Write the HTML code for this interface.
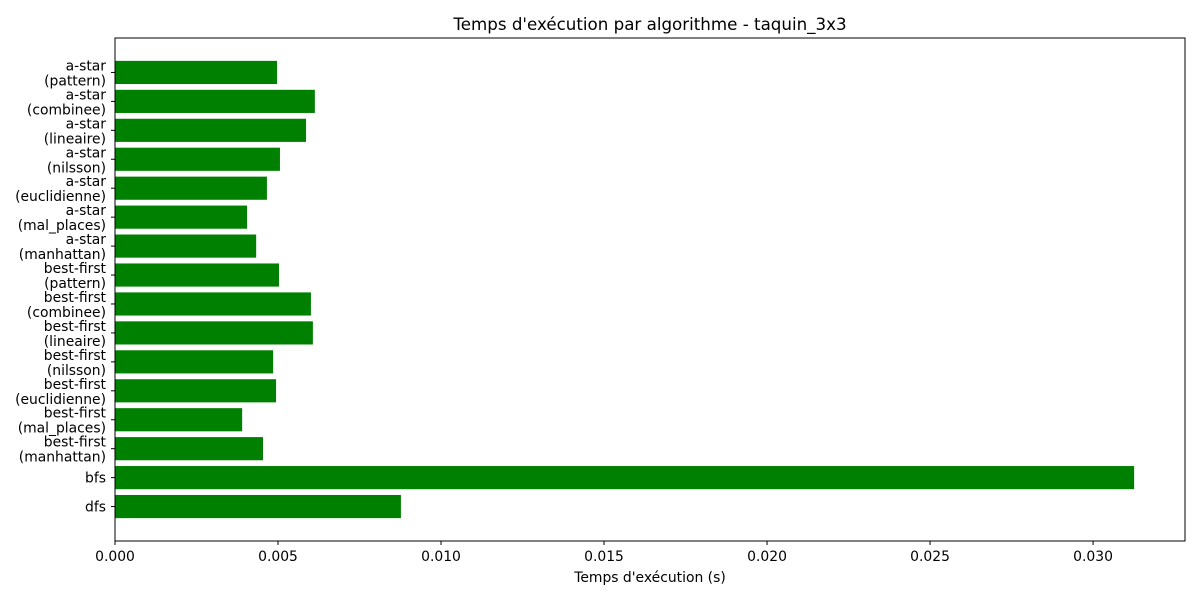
<!DOCTYPE html>
<html><head><meta charset="utf-8"><style>
body{margin:0;background:#fff;font-family:"DejaVu Sans","Liberation Sans",sans-serif}
</style></head><body>
<svg id="chart" width="1200" height="600" xmlns="http://www.w3.org/2000/svg" font-family="DejaVu Sans, Liberation Sans, sans-serif">
<rect width="1200" height="600" fill="#fff"/>
</svg>
<script>
const categories=["dfs","bfs","best-first\n(manhattan)","best-first\n(mal_places)","best-first\n(euclidienne)","best-first\n(nilsson)","best-first\n(lineaire)","best-first\n(combinee)","best-first\n(pattern)","a-star\n(manhattan)","a-star\n(mal_places)","a-star\n(euclidienne)","a-star\n(nilsson)","a-star\n(lineaire)","a-star\n(combinee)","a-star\n(pattern)"];
const values=[0.00877,0.03126,0.00454,0.0039,0.00494,0.00485,0.00607,0.00601,0.00503,0.00433,0.00405,0.00466,0.00506,0.00586,0.00613,0.00497];
const xTicks=[0,0.005,0.010,0.015,0.020,0.025,0.030];
const xTickLabels=["0.000","0.005","0.010","0.015","0.020","0.025","0.030"];
const NS="http://www.w3.org/2000/svg";
const svg=document.getElementById('chart');
const L=115,R=1185,T=38,B=541;
const xmax=0.03282,ymin=-1.19,ymax=16.19;
const xs=v=>L+v/xmax*(R-L);
const ys=i=>B-(i-ymin)/(ymax-ymin)*(B-T);
const bw=(B-T)/(ymax-ymin)*0.8;
function mk(t,a){const e=document.createElementNS(NS,t);for(const k in a)e.setAttribute(k,a[k]);svg.appendChild(e);return e;}
values.forEach((v,i)=>{
 const r=mk('rect',{x:xs(0),y:ys(i)-bw/2,width:xs(v)-xs(0),height:bw,fill:'#008000'});
 
 
 mk('line',{x1:L-4,x2:L,y1:ys(i),y2:ys(i),stroke:'#000','stroke-width':1});
 const parts=categories[i].split('\n');
 const t=mk('text',{x:L-9,'text-anchor':'end','font-size':13.9,fill:'#000'});
 
 
 if(parts.length===1){t.setAttribute('y',ys(i)+5);t.textContent=parts[0];}
 else{parts.forEach((p,j)=>{const s=document.createElementNS(NS,'tspan');s.setAttribute('x',L-9);s.setAttribute('y',ys(i)-2+j*15);s.textContent=p;t.appendChild(s);});}
});
xTicks.forEach((v,i)=>{
 mk('line',{x1:xs(v),x2:xs(v),y1:B,y2:B+4,stroke:'#000','stroke-width':1});
 const t=mk('text',{x:xs(v),y:B+20,'text-anchor':'middle','font-size':13.9,fill:'#000'});
 
 
 t.textContent=xTickLabels[i];
});
const fr=mk('rect',{x:L,y:T,width:R-L,height:B-T,fill:'none',stroke:'#000','stroke-width':1});


const ti=mk('text',{x:(L+R)/2,y:30,'text-anchor':'middle','font-size':16.7,fill:'#000'});


ti.textContent="Temps d'exécution par algorithme - taquin_3x3";
const xl=mk('text',{x:(L+R)/2,y:582,'text-anchor':'middle','font-size':13.9,fill:'#000'});


xl.textContent="Temps d'exécution (s)";
</script>
</body></html>
